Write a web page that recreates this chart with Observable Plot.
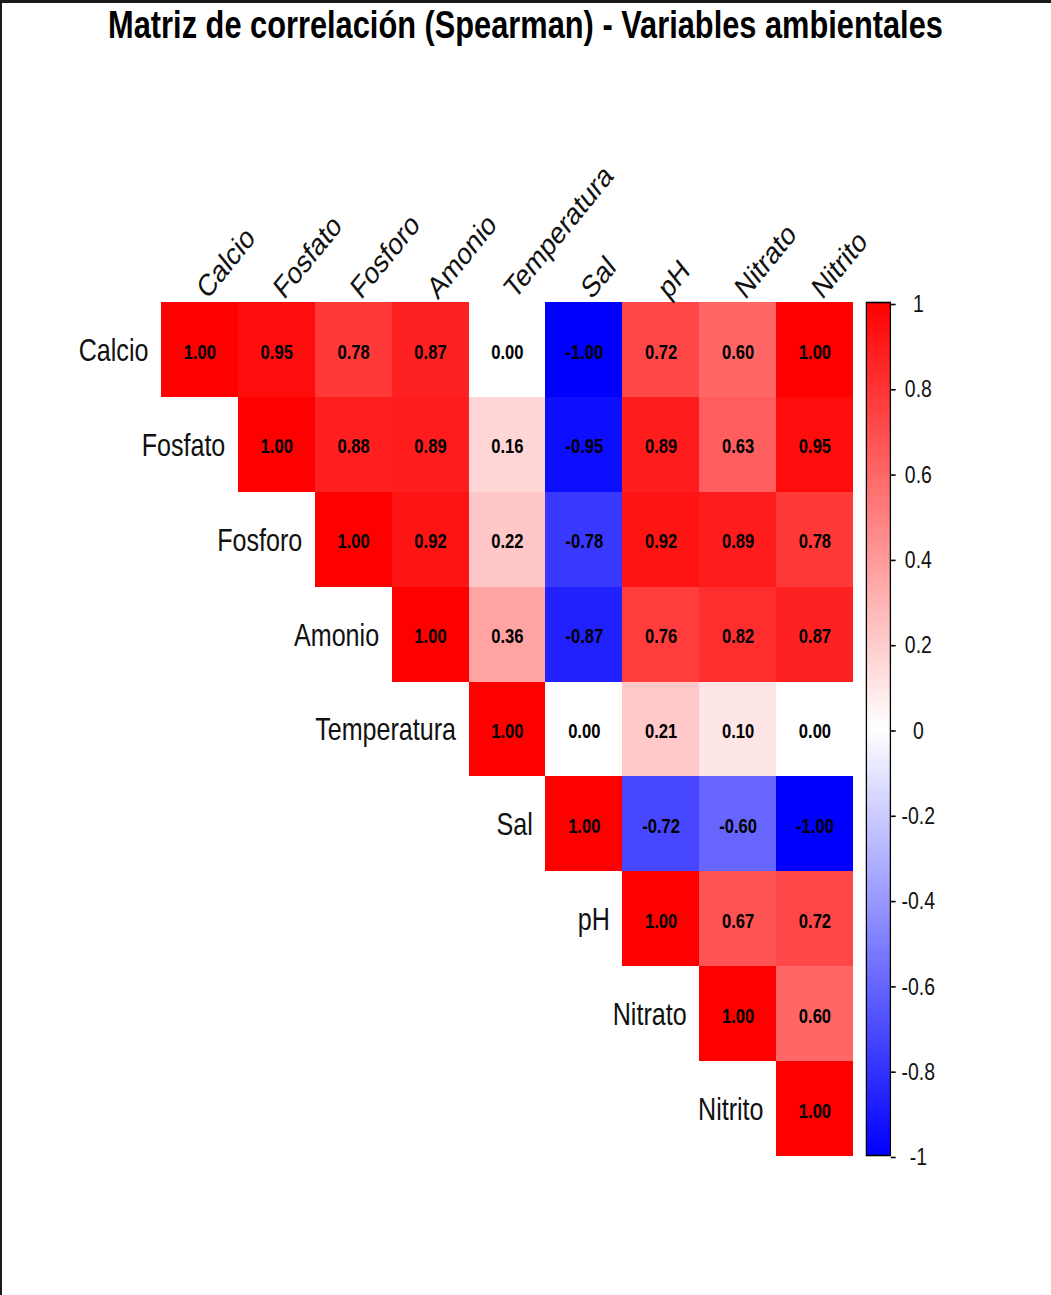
<!DOCTYPE html>
<html>
<head>
<meta charset="utf-8">
<script src="https://cdn.jsdelivr.net/npm/d3@7"></script>
<script src="https://cdn.jsdelivr.net/npm/@observablehq/plot@0.6"></script>
<style>
  html, body { margin: 0; padding: 0; background: #fff; }
  #wrap { position: relative; width: 1051px; height: 1295px; overflow: hidden; background: #fff; }
  #wrap > * { position: absolute; left: 0; top: 0; }
  #title { top: 3px; text-align: center; font-family: "Liberation Sans", Arial, sans-serif; font-weight: bold; font-size: 38px; color: #000; line-height: 44px; white-space: nowrap; transform-origin: 0 0; }
  .bt { left: 0; top: 1px; width: 1051px; height: 3px; background: #1a1a1a; }
  .bl { left: 2px; top: 1px; width: 2px; height: 1295px; background: #1a1a1a; }
  svg.sq { max-width: none !important; transform-origin: 0 0; }
</style>
</head>
<body>
<div id="wrap">
  <div id="title">Matriz de correlación (Spearman) - Variables ambientales</div>
</div>
<script>
const vars = ["Calcio","Fosfato","Fosforo","Amonio","Temperatura","Sal","pH","Nitrato","Nitrito"];
// upper-triangle rows (starting at the diagonal)
const rCalcio      = [1.00, 0.95, 0.78, 0.87, 0.00, -1.00, 0.72, 0.60, 1.00];
const rFosfato     = [1.00, 0.88, 0.89, 0.16, -0.95, 0.89, 0.63, 0.95];
const rFosforo     = [1.00, 0.92, 0.22, -0.78, 0.92, 0.89, 0.78];
const rAmonio      = [1.00, 0.36, -0.87, 0.76, 0.82, 0.87];
const rTemperatura = [1.00, 0.00, 0.21, 0.10, 0.00];
const rSal         = [1.00, -0.72, -0.60, -1.00];
const rPH          = [1.00, 0.67, 0.72];
const rNitrato     = [1.00, 0.60];
const rNitrito     = [1.00];
const colorTicks = [1, 0.8, 0.6, 0.4, 0.2, 0, -0.2, -0.4, -0.6, -0.8, -1];

const rows = [rCalcio, rFosfato, rFosforo, rAmonio, rTemperatura, rSal, rPH, rNitrato, rNitrito];
const cells = [];
rows.forEach((arr, i) => arr.forEach((r, k) => cells.push({row: vars[i], col: vars[i + k], r})));

// The reference is horizontally compressed; draw at full width and squeeze by K.
const K = 0.81;
const FONT = '"Liberation Sans", Arial, sans-serif';
const W = 1051, H = 1295;
const W0 = W / K;
const mL = 161 / K, mR = W0 - 853 / K, mT = 302, mB = H - 1156;
const cw = (W0 - mL - mR) / vars.length;
const ch = (H - mT - mB) / vars.length;

const colorOpts = {type: "linear", domain: [-1, 0, 1], range: ["blue", "white", "red"], interpolate: "rgb"};

const main = Plot.plot({
  width: W0, height: H,
  marginLeft: mL, marginRight: mR, marginTop: mT, marginBottom: mB,
  style: {fontFamily: FONT, background: "transparent", overflow: "visible"},
  x: {domain: vars, axis: null, padding: 0, round: false},
  y: {domain: vars, axis: null, padding: 0, round: false},
  color: colorOpts,
  marks: [
    Plot.cell(cells, {x: "col", y: "row", fill: "r", inset: 0, shapeRendering: "crispEdges"}),
    Plot.text(cells, {x: "col", y: "row", text: d => d.r.toFixed(2), fill: "#000", fontWeight: "bold", fontSize: 20.5, dy: 2}),
    Plot.text(vars, {x: d => d, y: d => d, text: d => d, textAnchor: "end", dx: -cw / 2 - 16, dy: 1, fontSize: 31, fill: "#111"}),
    Plot.text(vars, {x: d => d, y: () => vars[0], text: d => d, textAnchor: "start", lineAnchor: "bottom", rotate: -45, dy: -ch / 2 - 2, dx: 9, fontSize: 31, fill: "#111"})
  ]
});

const bx1 = 866 / K, bx2 = 890 / K;
const bar = Plot.plot({
  width: W0, height: H,
  marginLeft: bx1, marginRight: W0 - bx2, marginTop: 302, marginBottom: H - 1155,
  style: {fontFamily: FONT, background: "transparent", overflow: "visible"},
  x: {domain: [0, 1], axis: null},
  y: {domain: [-1, 1]},
  color: colorOpts,
  marks: [
    Plot.rect(d3.range(-1, 1, 0.005), {x1: 0, x2: 1, y1: d => d, y2: d => Math.min(1, d + 0.012), fill: d => d + 0.0025, shapeRendering: "crispEdges"}),
    Plot.frame({stroke: "#000", strokeWidth: 1.6}),
    Plot.axisY({anchor: "right", ticks: colorTicks, tickSize: 6, tickPadding: 28.5, textAnchor: "middle", dy: 2,
      tickFormat: d => String(+d.toFixed(1)), fontSize: 24, fill: "#111", stroke: "#000", strokeWidth: 1.6, label: null})
  ]
});

const wrap = document.getElementById("wrap");
for (const s of [main, bar]) {
  s.classList.add("sq");
  s.style.maxWidth = "none";
  s.style.transform = `scaleX(${K})`;
  s.style.transformOrigin = "0 0";
  wrap.appendChild(s);
}
const title = document.getElementById("title");
title.style.width = W0 + "px";
title.style.transform = `scaleX(${K})`;
const bt = document.createElement("div"); bt.className = "bt"; wrap.appendChild(bt);
const bl = document.createElement("div"); bl.className = "bl"; wrap.appendChild(bl);
</script>
</body>
</html>
